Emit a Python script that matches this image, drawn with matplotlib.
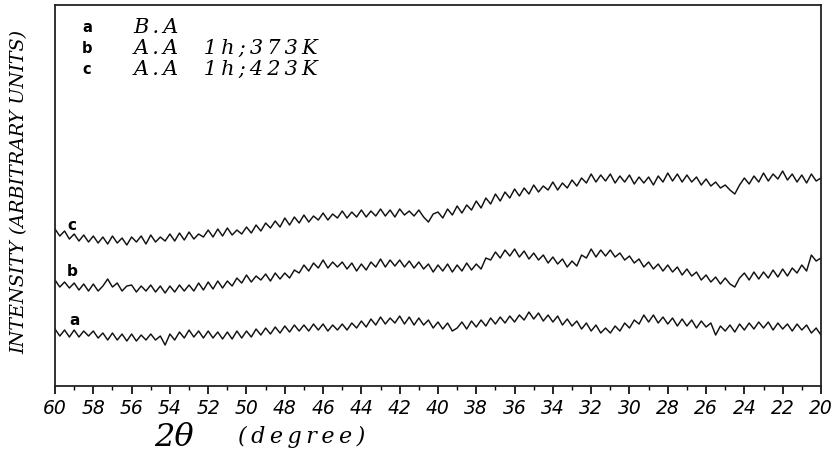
import numpy as np
import matplotlib
matplotlib.use('Agg')
import matplotlib.pyplot as plt

# 2-theta scan, 60 -> 20 deg, step 0.25 deg
two_theta = np.linspace(60, 20, 161)

# intensities (arbitrary units), 4 points per degree
trace_c = [
    157, 150, 155, 147,  152, 145, 151, 144,  150, 143, 149, 142,  150, 143, 148, 141,
    149, 144, 150, 142,  151, 144, 149, 145,  152, 145, 153, 146,  154, 147, 152, 149,
    156, 149, 157, 150,  158, 151, 156, 152,  159, 153, 161, 155,  163, 158, 165, 159,
    168, 161, 169, 163,  171, 164, 170, 166,  173, 166, 172, 168,  175, 168, 174, 169,
    176, 169, 175, 170,  177, 170, 176, 169,  177, 171, 175, 170,  176, 169, 164, 172,
    174, 168, 177, 171,  180, 173, 181, 176,  185, 178, 188, 182,  192, 185, 194, 188,
    197, 190, 198, 192,  201, 194, 200, 196,  204, 196, 203, 198,  206, 200, 208, 203,
    212, 204, 211, 205,  212, 203, 210, 204,  211, 202, 209, 203,  209, 201, 210, 204,
    213, 205, 212, 204,  211, 204, 209, 201,  207, 200, 204, 198,  201, 196, 192, 201,
    208, 202, 210, 204,  213, 205, 212, 207,  215, 206, 212, 204,  211, 203, 212, 205,
    208,
]
trace_b = [
    106, 99, 104, 98,   103, 96, 102, 95,   102, 95, 100, 107,  99, 103, 95, 100,
    101, 94, 100, 95,   101, 94, 100, 93,   100, 94, 101, 95,   101, 95, 103, 96,
    104, 97, 105, 98,   105, 100, 108, 103, 111, 104, 110, 106, 112, 105, 113, 107,
    113, 108, 116, 113, 121, 115, 123, 118, 126, 118, 124, 119, 124, 117, 123, 115,
    122, 116, 124, 119, 127, 119, 126, 120, 126, 119, 125, 118, 124, 117, 122, 114,
    121, 115, 122, 114, 121, 115, 123, 116, 122, 117, 128, 126, 134, 128, 136, 130,
    137, 129, 135, 127, 133, 126, 131, 123, 129, 122, 127, 119, 125, 120, 131, 128,
    137, 129, 136, 130, 136, 129, 133, 126, 130, 123, 127, 119, 124, 117, 122, 115,
    121, 114, 119, 111, 117, 110, 114, 106, 111, 104, 109, 102, 108, 102, 99, 108,
    113, 106, 114, 107, 114, 108, 116, 109, 117, 110, 118, 113, 121, 115, 131, 125,
    128,
]
trace_a = [
    57, 50, 56, 49,  56, 49, 55, 50,  55, 48, 53, 46,  53, 46, 52, 45,
    52, 45, 51, 46,  52, 46, 50, 41,  52, 46, 54, 48,  56, 49, 55, 48,
    55, 48, 54, 47,  54, 47, 55, 48,  55, 49, 57, 51,  58, 52, 59, 53,
    60, 54, 61, 55,  61, 55, 62, 56,  62, 55, 61, 56,  62, 56, 63, 58,
    65, 59, 67, 61,  69, 62, 68, 63,  70, 62, 69, 61,  68, 61, 66, 58,
    64, 57, 63, 55,  58, 64, 57, 65,  59, 66, 60, 68,  62, 69, 63, 70,
    64, 71, 66, 74,  67, 73, 65, 71,  64, 70, 61, 67,  60, 65, 57, 63,
    55, 61, 53, 58,  53, 60, 55, 63,  58, 66, 62, 71,  64, 71, 63, 69,
    62, 68, 60, 67,  60, 66, 58, 65,  59, 63, 51, 60,  55, 61, 54, 62,
    56, 63, 57, 64,  58, 64, 56, 63,  57, 62, 55, 62,  56, 61, 53, 58,
    51,
]
trace_names = ['a', 'b', 'c']
legend_text = ['B.A', 'A.A  1h;373K', 'A.A  1h;423K']
xticks = list(range(60, 19, -2))

TS = '\u2009'  # thin space, the scanned lettering is spread out


def spread(s):
    return TS.join(s)


fig = plt.figure(figsize=(8.36, 4.55), dpi=100)
ax = fig.add_axes([0.0658, 0.1516, 0.9162, 0.8374])

for tr in (trace_a, trace_b, trace_c):
    ax.plot(two_theta, tr, color='#111111', linewidth=1.05)

ax.set_xlim(60, 20)
ax.set_ylim(0, 381)
ax.set_xticks(xticks)
ax.set_xticks(range(60, 19, -1), minor=True)
ax.set_xticklabels([str(t) for t in xticks], fontsize=13.5, style='italic',
                   family='DejaVu Sans')
ax.set_yticks([])
ax.tick_params(axis='x', which='major', direction='out', length=6, width=1.2, pad=3.5)
ax.tick_params(axis='x', which='minor', direction='out', length=3, width=1.0)
for s in ax.spines.values():
    s.set_linewidth(1.3)
    s.set_color('#222222')

# curve labels near the left edge
lab_pos = {'a': (58.96, 66), 'b': (59.11, 115), 'c': (59.11, 161)}
for n in trace_names:
    ax.text(lab_pos[n][0], lab_pos[n][1], n, fontsize=11, fontweight='bold',
            family='DejaVu Sans', ha='center', va='center')

# legend block top-left
ys = [0.942, 0.887, 0.832]
for n, t, y in zip(trace_names, legend_text, ys):
    ax.text(0.042, y, n, transform=ax.transAxes, fontsize=10.5, fontweight='bold',
            family='DejaVu Sans', ha='center', va='center')
    ax.text(0.102, y, spread(t), transform=ax.transAxes, fontsize=15, style='italic',
            family='DejaVu Serif', ha='left', va='center')

fig.text(0.023, 0.578, 'INTENSITY (ARBITRARY UNITS)', rotation=90, fontsize=13.8,
         style='italic', family='DejaVu Serif', ha='center', va='center')
fig.text(0.208, 0.038, '2\u03b8', fontsize=23, style='italic', family='DejaVu Serif',
         ha='center', va='center')
fig.text(0.361, 0.040, spread('(degree)'), fontsize=16, style='italic',
         family='DejaVu Serif', ha='center', va='center')

fig.savefig('out.png', dpi=100)
